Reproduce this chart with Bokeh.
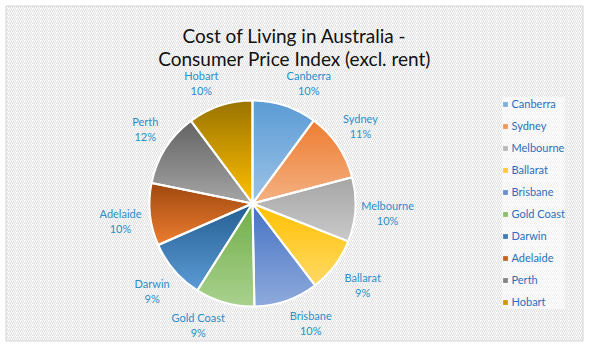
import numpy as np
from bokeh.plotting import figure
from bokeh.models import Range1d, Legend, LegendItem, ColumnDataSource
from bokeh.core.properties import value
from bokeh.embed import file_html
from bokeh.resources import INLINE

# ---------------- data ----------------
cities = ["Canberra", "Sydney", "Melbourne", "Ballarat", "Brisbane",
          "Gold Coast", "Darwin", "Adelaide", "Perth", "Hobart"]
cpi_share = [10.1, 10.8, 10.1, 8.6, 10.1, 9.3, 9.4, 9.8, 11.6, 10.2]
top_colors = ["#5b9bd5", "#ed7d31", "#a5a5a5", "#ffc000", "#4472c4",
              "#70ad47", "#255e91", "#9e480e", "#636363", "#997300"]
bottom_colors = ["#9dc3e6", "#f4b183", "#cacaca", "#ffd966", "#8faadc",
                 "#a9d18e", "#5b9bd5", "#ed7d31", "#a5a5a5", "#ffc000"]
title_lines = ["Cost of Living in Australia -", "Consumer Price Index (excl. rent)"]

# ---------------- layout ----------------
W, H = 590, 346
def Y(py):
    return H - py

FONT = "Lato"
LABEL_COLOR = "#2a8fc9"
LEGEND_COLOR = "#2a6fbd"

def hex2rgb(h):
    h = h.lstrip("#")
    return np.array([int(h[i:i + 2], 16) for i in (0, 2, 4)], dtype=float)

def mix(c1, c2, t):
    c = hex2rgb(c1) * (1 - t) + hex2rgb(c2) * t
    return "#%02x%02x%02x" % tuple(int(round(v)) for v in c)

def clip(poly, yval, keep_above):
    out = []
    n = len(poly)
    for i in range(n):
        P = poly[i]
        Q = poly[(i + 1) % n]
        inP = P[1] >= yval if keep_above else P[1] <= yval
        inQ = Q[1] >= yval if keep_above else Q[1] <= yval
        if inP:
            out.append(P)
        if inP != inQ:
            t = (yval - P[1]) / (Q[1] - P[1])
            out.append((P[0] + t * (Q[0] - P[0]), yval))
    return out

p = figure(width=W, height=H, x_range=Range1d(0, W), y_range=Range1d(0, H),
           output_backend="svg", toolbar_location=None, min_border=0,
           x_axis_location=None, y_axis_location=None)
p.grid.visible = False
p.outline_line_color = None
p.background_fill_color = "white"
p.border_fill_color = "white"

# chart area with hatched background
p.quad(left=5.5, right=582.5, bottom=Y(340.5), top=Y(5.5),
       fill_color="white", hatch_pattern="/", hatch_color="#dcdcdc",
       hatch_scale=4, hatch_weight=1, line_color="#d4d4d4", line_width=1)

# title
p.text(x=[294, 294], y=[Y(35), Y(57.5)], text=title_lines,
       text_font=value(FONT), text_font_size="19px", text_color="#111111",
       text_align="center", text_baseline="alphabetic")

# pie
vals = np.array(cpi_share, dtype=float)
frac = vals / vals.sum()
cum = np.concatenate([[0.0], np.cumsum(frac)])
start = np.pi / 2 - 2 * np.pi * cum[:-1]
end = np.pi / 2 - 2 * np.pi * cum[1:]
cx, cy, R = 252.0, Y(203), 103.0
mid_colors = [mix(t, b, 0.5) for t, b in zip(top_colors, bottom_colors)]

src = ColumnDataSource(dict(start=end, end=start, color=mid_colors, city=cities))
base = p.wedge(x=cx, y=cy, radius=R, start_angle="start", end_angle="end",
               fill_color="color", line_color=None, source=src)

# vertical gradient per slice
bx, by, bc = [], [], []
N = 32
for i in range(len(cities)):
    a = np.linspace(start[i], end[i], 90)
    poly = [(cx, cy)] + [(cx + R * np.cos(t), cy + R * np.sin(t)) for t in a]
    ys = [q[1] for q in poly]
    ymax, ymin = max(ys), min(ys)
    h = (ymax - ymin) / N
    for k in range(N):
        yhi = ymax - k * h + 0.4
        ylo = ymax - (k + 1) * h - 0.4
        band = clip(clip(poly, yhi, False), ylo, True)
        if len(band) < 3:
            continue
        bx.append([q[0] for q in band])
        by.append([q[1] for q in band])
        bc.append(mix(top_colors[i], bottom_colors[i], (k + 0.5) / N))
p.patches(xs=bx, ys=by, fill_color=bc, line_color=None)

# white slice borders
p.wedge(x=cx, y=cy, radius=R, start_angle="start", end_angle="end",
        fill_color=None, line_color="white", line_width=2, source=src)

# data labels
mids = (start + end) / 2
pct = ["%d%%" % int(round(f * 100)) for f in frac]
gap = 8.0
lx, ly1, ly2 = [], [], []
for i in range(len(cities)):
    ax = cx + (R + gap) * np.cos(mids[i])
    ay = cy + (R + gap) * np.sin(mids[i])
    fx = np.clip(np.cos(mids[i]) / 0.3, -1, 1)
    fy = np.clip(np.sin(mids[i]) / 0.3, -1, 1)
    w = 5.4 * max(len(cities[i]), len(pct[i]))
    bxc = ax + fx * w / 2
    byc = ay + fy * 15
    lx.append(bxc)
    ly1.append(byc + 7.5)
    ly2.append(byc - 7.5)
p.text(x=lx, y=ly1, text=cities, text_font=value(FONT), text_font_size="11px",
       text_color=LABEL_COLOR, text_align="center", text_baseline="middle")
p.text(x=lx, y=ly2, text=pct, text_font=value(FONT), text_font_size="11px",
       text_color=LABEL_COLOR, text_align="center", text_baseline="middle")

# legend
legend = Legend(items=[LegendItem(label=c, renderers=[base], index=i)
                       for i, c in enumerate(cities)],
                location=(501.5, 37.2), glyph_width=6, glyph_height=6,
                label_standoff=4, spacing=8, label_height=14, padding=7,
                margin=0, label_text_font=FONT, label_text_font_size="11px",
                label_text_color=LEGEND_COLOR, background_fill_color="white",
                background_fill_alpha=0.55, border_line_color=None)
p.add_layout(legend)

open("out.html", "w").write(file_html(p, INLINE))
